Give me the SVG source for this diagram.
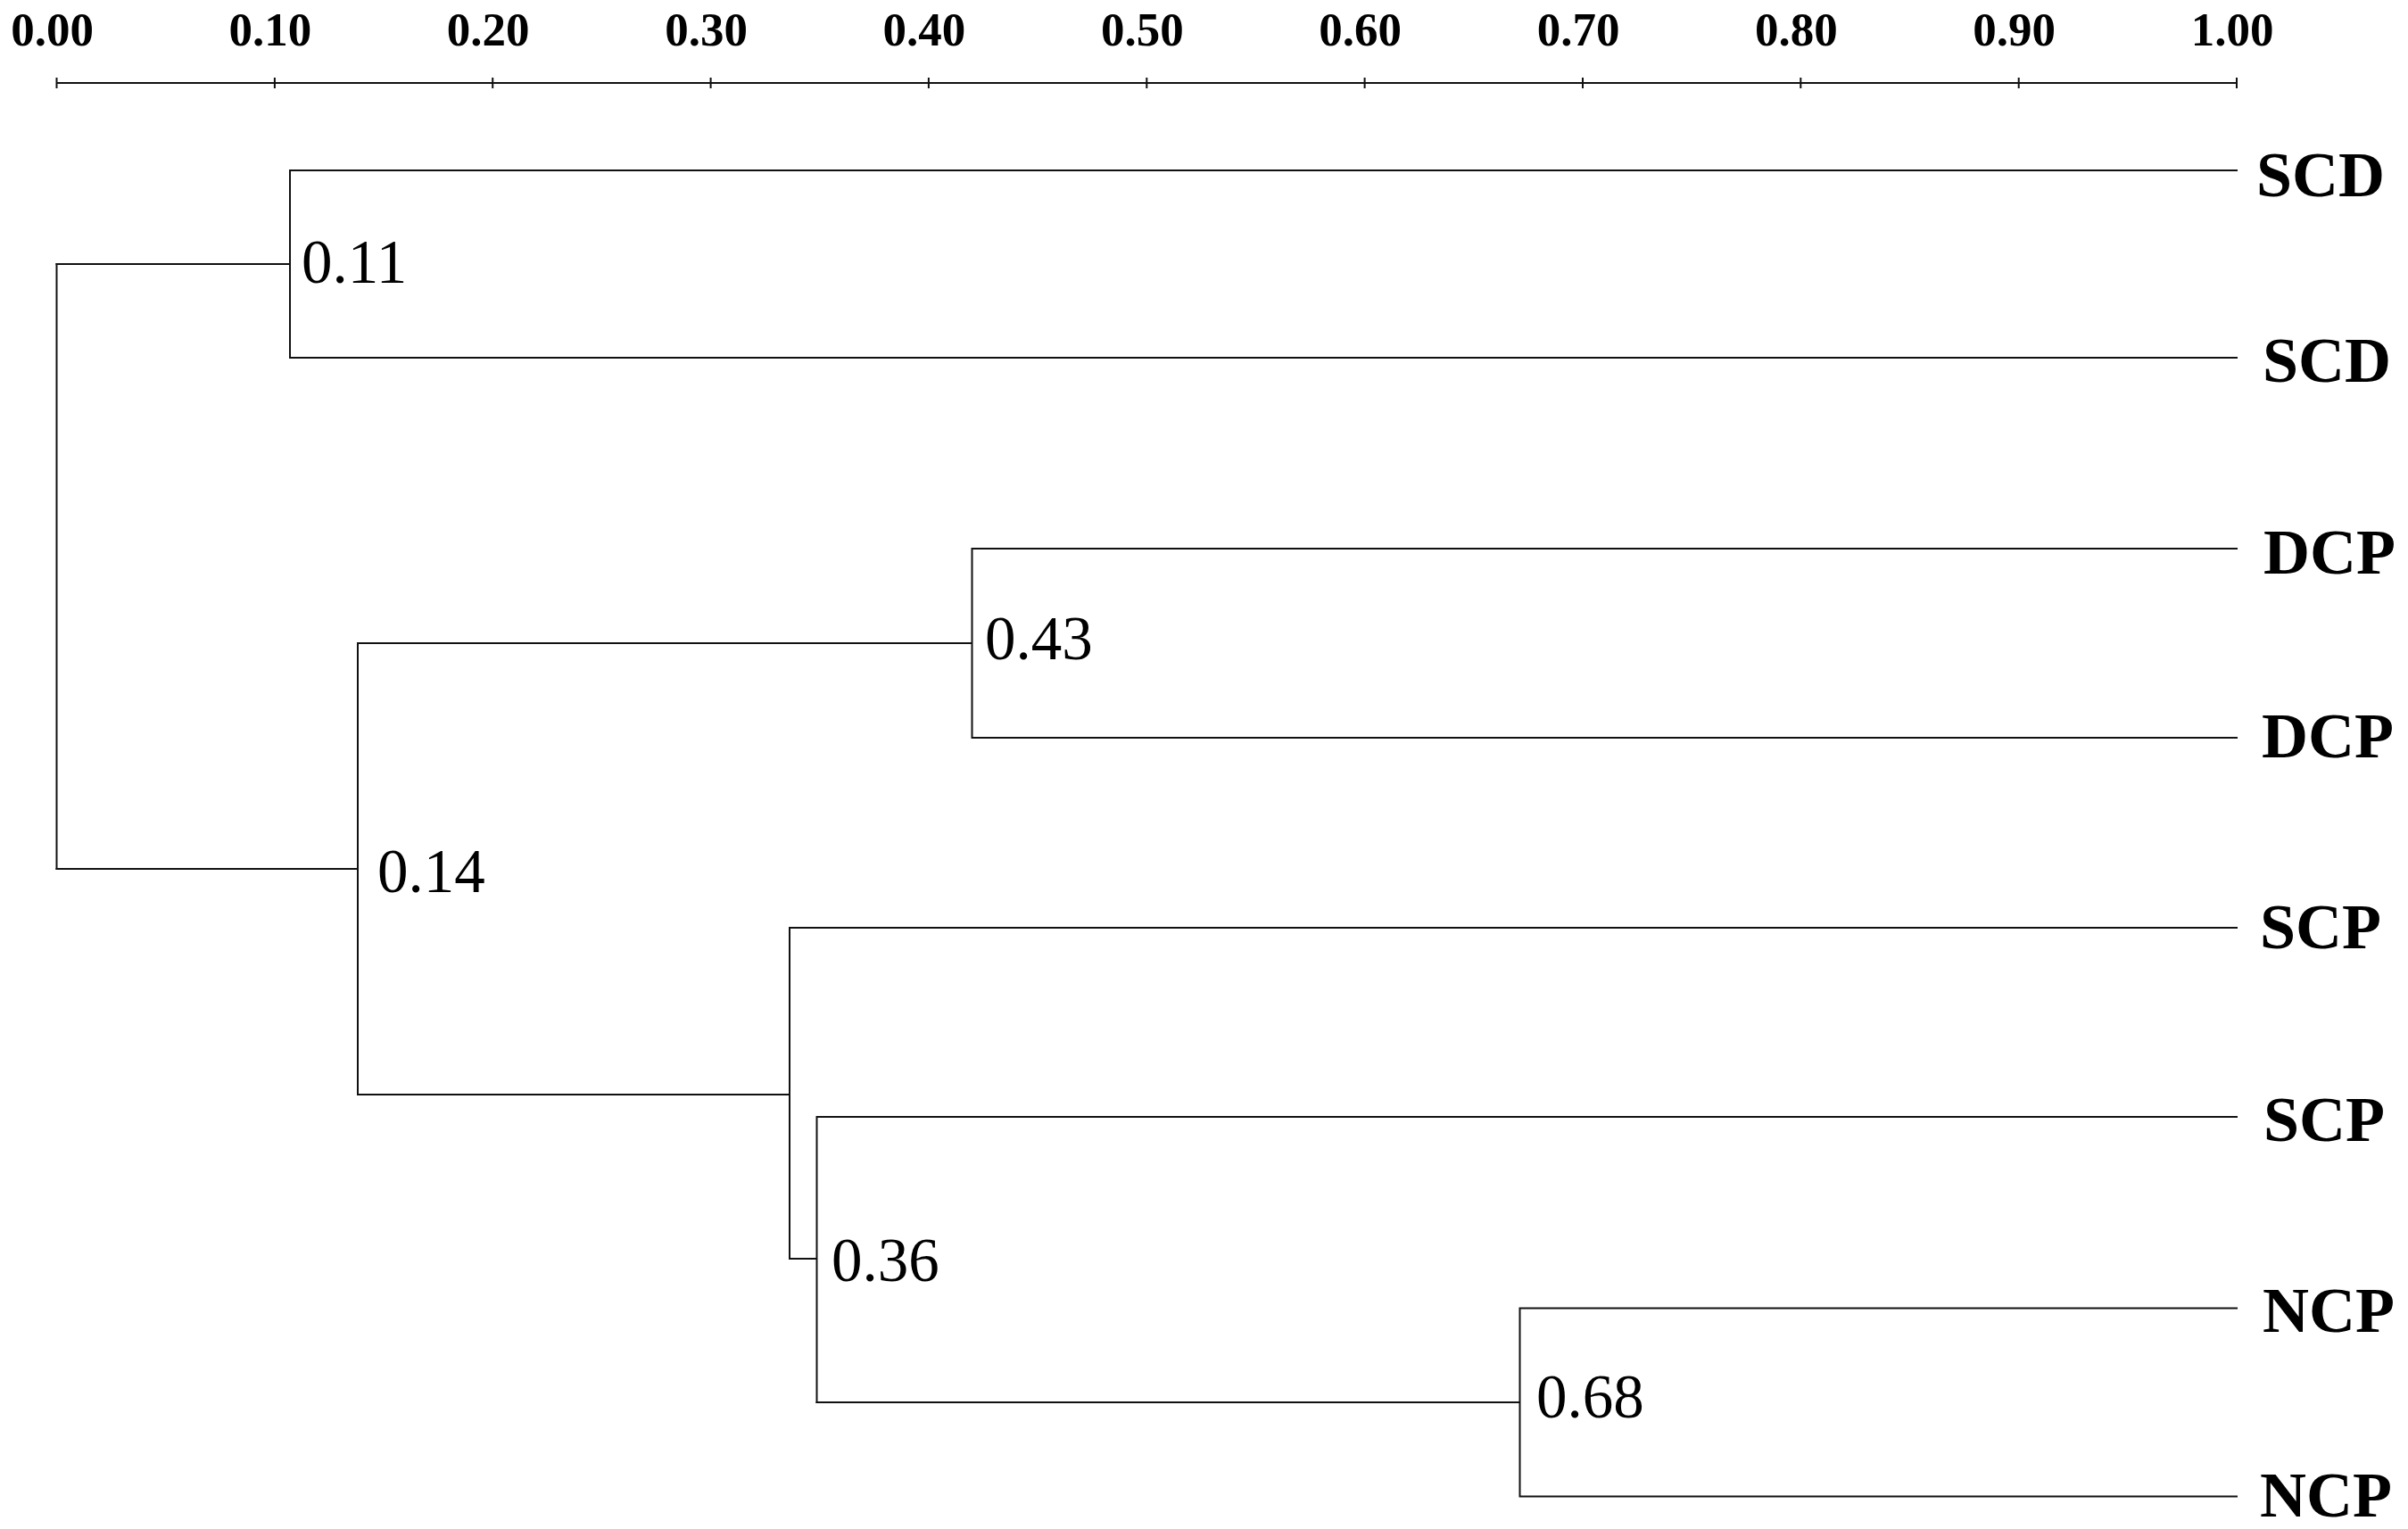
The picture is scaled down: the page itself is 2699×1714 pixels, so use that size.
<svg xmlns="http://www.w3.org/2000/svg" width="2699" height="1714" viewBox="0 0 2699 1714">
<style>
.ln{stroke:#111;stroke-width:2;fill:none;stroke-linecap:square}
.ax{font-family:"Liberation Serif","Times New Roman",serif;font-weight:bold;font-size:53px;fill:#000;text-anchor:middle}
.leaf{font-family:"Liberation Serif","Times New Roman",serif;font-weight:bold;font-size:72px;fill:#000}
.val{font-family:"Liberation Serif","Times New Roman",serif;font-size:69px;fill:#000}
</style>
<rect width="2699" height="1714" fill="#fff"/>
<g id="axis">
<path class="ln" d="M63.5,93H2507M63.5,88V98M307.9,88V98M552.2,88V98M796.6,88V98M1040.9,88V98M1285.3,88V98M1529.6,88V98M1774,88V98M2018.3,88V98M2262.7,88V98M2507,88V98"/>
<text class="ax" x="58.5" y="51">0.00</text>
<text class="ax" x="302.9" y="51">0.10</text>
<text class="ax" x="547.2" y="51">0.20</text>
<text class="ax" x="791.6" y="51">0.30</text>
<text class="ax" x="1035.9" y="51">0.40</text>
<text class="ax" x="1280.3" y="51">0.50</text>
<text class="ax" x="1524.6" y="51">0.60</text>
<text class="ax" x="1769" y="51">0.70</text>
<text class="ax" x="2013.3" y="51">0.80</text>
<text class="ax" x="2257.7" y="51">0.90</text>
<text class="ax" x="2502" y="51">1.00</text>
</g>
<g id="connectors">
<path class="ln" d="M63.5,296V974"/>
<path class="ln" d="M63.5,296H325M325,191V401M325,191H2507M325,401H2507"/>
<path class="ln" d="M63.5,974H401M401,721V1227"/>
<path class="ln" d="M401,721H1089.5M1089.5,615V827M1089.5,615H2507M1089.5,827H2507"/>
<path class="ln" d="M401,1227H885M885,1040V1411M885,1040H2507"/>
<path class="ln" d="M885,1411H915.5M915.5,1252V1572M915.5,1252H2507"/>
<path class="ln" d="M915.5,1572H1703.5M1703.5,1466.5V1677.5M1703.5,1466.5H2507M1703.5,1677.5H2507"/>
</g>
<g id="node-0.11"><text class="val" x="338" y="317">0.11</text></g>
<g id="node-0.14"><text class="val" x="423" y="1000">0.14</text></g>
<g id="node-0.43"><text class="val" x="1104" y="739">0.43</text></g>
<g id="node-0.36"><text class="val" x="932" y="1436">0.36</text></g>
<g id="node-0.68"><text class="val" x="1722" y="1589">0.68</text></g>
<g id="leaf-scd-1"><text class="leaf" x="2529" y="220">SCD</text></g>
<g id="leaf-scd-2"><text class="leaf" x="2536" y="428">SCD</text></g>
<g id="leaf-dcp-1"><text class="leaf" x="2537" y="643">DCP</text></g>
<g id="leaf-dcp-2"><text class="leaf" x="2535" y="849">DCP</text></g>
<g id="leaf-scp-1"><text class="leaf" x="2533" y="1063">SCP</text></g>
<g id="leaf-scp-2"><text class="leaf" x="2537" y="1279">SCP</text></g>
<g id="leaf-ncp-1"><text class="leaf" x="2536" y="1493">NCP</text></g>
<g id="leaf-ncp-2"><text class="leaf" x="2533" y="1700">NCP</text></g>
</svg>
